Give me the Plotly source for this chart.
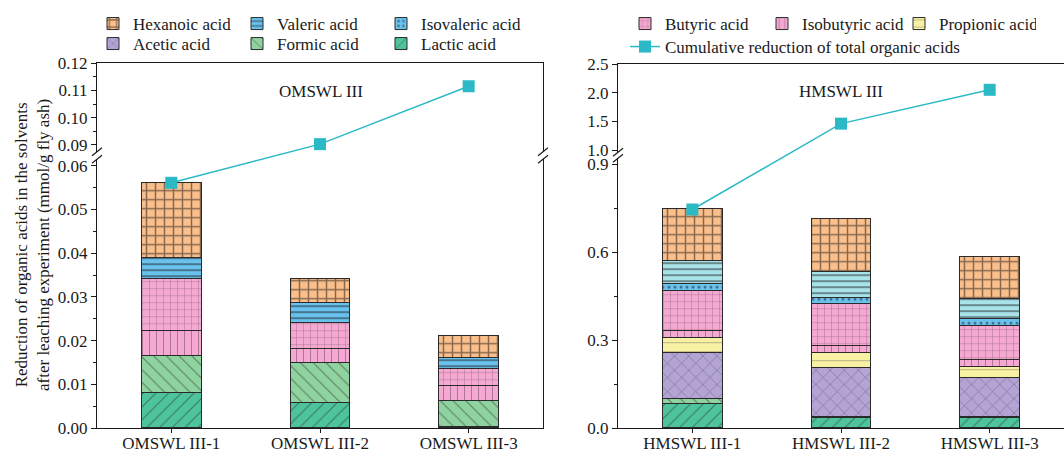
import plotly.graph_objects as go

W, H = 1064, 453

# ---------------- data ----------------
om_cats = ["OMSWL III-1", "OMSWL III-2", "OMSWL III-3"]
hm_cats = ["HMSWL III-1", "HMSWL III-2", "HMSWL III-3"]

# OMSWL III (mmol/g fly ash)
om_lactic = [0.0082, 0.0059, 0.0003]
om_formic = [0.0083, 0.0092, 0.0059]
om_isobutyric = [0.0057, 0.0030, 0.0036]
om_butyric = [0.0121, 0.0060, 0.0038]
om_valeric = [0.0048, 0.0047, 0.0026]
om_hexanoic = [0.0170, 0.0055, 0.0049]
om_total = [0.0561, 0.0903, 0.1115]

# HMSWL III (mmol/g fly ash)
hm_lactic = [0.083, 0.037, 0.035]
hm_formic = [0.016, 0.003, 0.003]
hm_acetic = [0.157, 0.168, 0.133]
hm_propionic = [0.051, 0.050, 0.038]
hm_isobutyric = [0.025, 0.023, 0.023]
hm_butyric = [0.137, 0.142, 0.119]
hm_isovaleric = [0.025, 0.022, 0.022]
hm_valeric = [0.077, 0.087, 0.069]
hm_hexanoic = [0.176, 0.182, 0.144]
hm_total = [0.745, 1.46, 2.05]

# ---------------- styles ----------------
FONT = "Liberation Serif"
FS = 17
TXT = "#1a1a1a"
LINEC = "#2bb9c6"

def px(x):
    return x / W

def py(y):
    return 1 - y / H

# axis layout (pixel positions -> paper)
L_X = [px(97), px(543)]
R_X = [px(618), 1.0]
L_LOW_RANGE = [0, 0.0615]
L_LOW_DOM = [py(428), py(159.2)]
L_UP_RANGE = [0.0875, 0.12001]
L_UP_DOM = [py(151.8), py(63)]
R_LOW_RANGE = [0, 0.92]
R_LOW_DOM = [py(428), py(158.2)]
R_UP_RANGE = [0.96, 2.5001]
R_UP_DOM = [py(152.3), py(64)]


def broken_scale(v, low_r, low_d, up_r, up_d):
    """Map a value on the broken axis to paper-y."""
    if v <= low_r[1]:
        r, d = low_r, low_d
    else:
        r, d = up_r, up_d
    return d[0] + (v - r[0]) / (r[1] - r[0]) * (d[1] - d[0])


styles = {
    "Hexanoic acid": dict(bg="#fbbf8b", fg="#111111", shape="+", size=9, sol=0.3, legend="legend", rank=1),
    "Valeric acid": dict(bg="#69c2ee", fg="#1a1a1a", shape="-", size=6, sol=0.3, legend="legend", rank=2),
    "Isovaleric acid": dict(bg="#69c2ee", fg="#1a1a1a", shape=".", size=6, sol=0.2, legend="legend", rank=3),
    "Acetic acid": dict(bg="#b4a4d6", fg="#3a3a3a", shape="x", size=10, sol=0.12, legend="legend2", rank=4),
    "Formic acid": dict(bg="#8fd3a0", fg="#2a2a2a", shape="\\", size=9, sol=0.12, legend="legend2", rank=5),
    "Lactic acid": dict(bg="#4ec49c", fg="#2a2a2a", shape="/", size=9, sol=0.12, legend="legend2", rank=6),
    "Butyric acid": dict(bg="#f5a8d1", fg="#4a3040", shape="+", size=7, sol=0.12, legend="legend3", rank=7),
    "Isobutyric acid": dict(bg="#f5a8d1", fg="#4a3040", shape="|", size=7, sol=0.12, legend="legend3", rank=8),
    "Propionic acid": dict(bg="#f8f1a3", fg="#6a6a50", shape="-", size=9, sol=0.1, legend="legend3", rank=9),
}

fig = go.Figure()


def add_bar(name, x, y, xa, ya, showlegend, bg=None):
    s = styles[name]
    color = bg or s["bg"]
    fig.add_trace(go.Bar(
        name=name, x=x, y=y, xaxis=xa, yaxis=ya, width=0.4,
        marker=dict(color=color,
                    line=dict(color="#2a2a2a", width=1),
                    pattern=dict(shape=s["shape"], bgcolor=color, fgcolor=s["fg"],
                                 size=s["size"], solidity=s["sol"], fillmode="overlay")),
        showlegend=showlegend, legend=s["legend"], legendrank=s["rank"],
        hoverinfo="skip",
    ))


# left panel stack (bottom -> top)
add_bar("Lactic acid", om_cats, om_lactic, "x", "y", True)
add_bar("Formic acid", om_cats, om_formic, "x", "y", True)
add_bar("Isobutyric acid", om_cats, om_isobutyric, "x", "y", True)
add_bar("Butyric acid", om_cats, om_butyric, "x", "y", True)
add_bar("Valeric acid", om_cats, om_valeric, "x", "y", True)
add_bar("Hexanoic acid", om_cats, om_hexanoic, "x", "y", True)

# right panel stack (bottom -> top)
add_bar("Lactic acid", hm_cats, hm_lactic, "x2", "y2", False)
add_bar("Formic acid", hm_cats, hm_formic, "x2", "y2", False)
add_bar("Acetic acid", hm_cats, hm_acetic, "x2", "y2", True)
add_bar("Propionic acid", hm_cats, hm_propionic, "x2", "y2", True)
add_bar("Isobutyric acid", hm_cats, hm_isobutyric, "x2", "y2", False)
add_bar("Butyric acid", hm_cats, hm_butyric, "x2", "y2", False)
add_bar("Isovaleric acid", hm_cats, hm_isovaleric, "x2", "y2", True)
add_bar("Valeric acid", hm_cats, hm_valeric, "x2", "y2", False, bg="#a9e3ea")
add_bar("Hexanoic acid", hm_cats, hm_hexanoic, "x2", "y2", False)

# placeholder traces so the upper (broken) axis segments are drawn
for xa, ya in [("x3", "y3"), ("x4", "y4")]:
    fig.add_trace(go.Scatter(x=[None], y=[None], xaxis=xa, yaxis=ya, mode="markers",
                             showlegend=False, hoverinfo="skip"))

# cumulative lines (span the broken axes)
om_line_y = [broken_scale(v, L_LOW_RANGE, L_LOW_DOM, L_UP_RANGE, L_UP_DOM) for v in om_total]
hm_line_y = [broken_scale(v, R_LOW_RANGE, R_LOW_DOM, R_UP_RANGE, R_UP_DOM) for v in hm_total]

fig.add_trace(go.Scatter(
    x=om_cats, y=om_line_y, xaxis="x", yaxis="y5", mode="lines+markers",
    line=dict(color=LINEC, width=1.5),
    marker=dict(symbol="square", size=12, color=LINEC),
    name="Cumulative reduction of total organic acids",
    showlegend=False, hoverinfo="skip"))
fig.add_trace(go.Scatter(
    x=hm_cats, y=hm_line_y, xaxis="x2", yaxis="y6", mode="lines+markers",
    line=dict(color=LINEC, width=1.5),
    marker=dict(symbol="square", size=12, color=LINEC),
    name="Cumulative reduction of total organic acids",
    showlegend=True, legend="legend4", legendrank=10, hoverinfo="skip"))

tickfont = dict(family=FONT, size=FS, color=TXT)
axline = dict(showline=True, linecolor="#1a1a1a", linewidth=1.2, showgrid=False,
              zeroline=False, automargin=False)

def xcat(domain, anchor, cats):
    return dict(domain=domain, anchor=anchor, type="category", categoryorder="array",
                categoryarray=cats, range=[-0.5, 2.5], ticks="outside", ticklen=4,
                ticklabelstandoff=-5,
                tickcolor="#1a1a1a", tickfont=tickfont, **axline)

def xtop(domain, anchor):
    return dict(domain=domain, anchor=anchor, side="top", showticklabels=False,
                ticks="", range=[0, 1], **axline)

def yax(domain, anchor, rng, dtick, fmt, minor=None):
    d = dict(domain=domain, anchor=anchor, range=rng, tick0=0, dtick=dtick, tickformat=fmt,
             ticks="outside", ticklen=5, tickcolor="#1a1a1a", tickfont=tickfont,
             mirror=True, **axline)
    if minor:
        d["minor"] = dict(dtick=minor, tick0=0, ticks="outside", ticklen=3, tickcolor="#1a1a1a")
    return d

legfont = dict(family=FONT, size=FS, color=TXT)
legcommon = dict(orientation="h", xanchor="left", yanchor="middle", traceorder="normal",
                 font=legfont, bgcolor="rgba(0,0,0,0)")

fig.update_layout(
    width=W, height=H,
    margin=dict(l=0, r=0, t=0, b=0, autoexpand=False),
    paper_bgcolor="white", plot_bgcolor="rgba(0,0,0,0)",
    barmode="stack",
    font=dict(family=FONT, size=FS, color=TXT),
    xaxis=xcat(L_X, "y", om_cats),
    xaxis2=xcat(R_X, "y2", hm_cats),
    xaxis3=xtop(L_X, "y3"),
    xaxis4=xtop(R_X, "y4"),
    yaxis=yax(L_LOW_DOM, "x", L_LOW_RANGE, 0.01, ".2f", 0.005),
    yaxis3=yax(L_UP_DOM, "x3", L_UP_RANGE, 0.01, ".2f", 0.005),
    yaxis2=yax(R_LOW_DOM, "x2", R_LOW_RANGE, 0.3, ".1f", 0.15),
    yaxis4=yax(R_UP_DOM, "x4", R_UP_RANGE, 0.5, ".1f"),
    yaxis5=dict(domain=[0, 1], range=[0, 1], anchor="x", visible=False, automargin=False),
    yaxis6=dict(domain=[0, 1], range=[0, 1], anchor="x2", visible=False, automargin=False),
    legend=dict(x=px(93), y=py(24), entrywidth=99, entrywidthmode="pixels", **legcommon),
    legend2=dict(x=px(93), y=py(44), entrywidth=99, entrywidthmode="pixels", **legcommon),
    legend3=dict(x=px(625), y=py(24), entrywidth=92, entrywidthmode="pixels", **legcommon),
    legend4=dict(x=px(625), y=py(47), **legcommon),
)

# panel titles and y-axis title
fig.add_annotation(text="OMSWL III", x=px(321), y=py(91), xref="paper", yref="paper",
                   xanchor="center", yanchor="middle",
                   showarrow=False, font=dict(family=FONT, size=FS, color=TXT))
fig.add_annotation(text="HMSWL III", x=px(841), y=py(91), xref="paper", yref="paper",
                   xanchor="center", yanchor="middle",
                   showarrow=False, font=dict(family=FONT, size=FS, color=TXT))
fig.add_annotation(text="Reduction of organic acids in the solvents<br>after leaching experiment (mmol/g fly ash)",
                   x=px(32), y=py(245), xref="paper", yref="paper", textangle=-90,
                   xanchor="center", yanchor="middle",
                   showarrow=False, font=dict(family=FONT, size=FS, color=TXT))

# axis break marks
for bx, gap in [(97, (151.8, 159.2)), (543, (151.8, 159.2)), (618, (152.3, 158.2))]:
    for yc in gap:
        fig.add_shape(type="line", xref="paper", yref="paper",
                      x0=px(bx - 5), y0=py(yc + 4), x1=px(bx + 5), y1=py(yc - 4),
                      line=dict(color="#1a1a1a", width=1.2))

fig.write_html("out.html", config={"displayModeBar": False},
               post_script="document.body.style.margin='0';document.body.style.padding='0';")
